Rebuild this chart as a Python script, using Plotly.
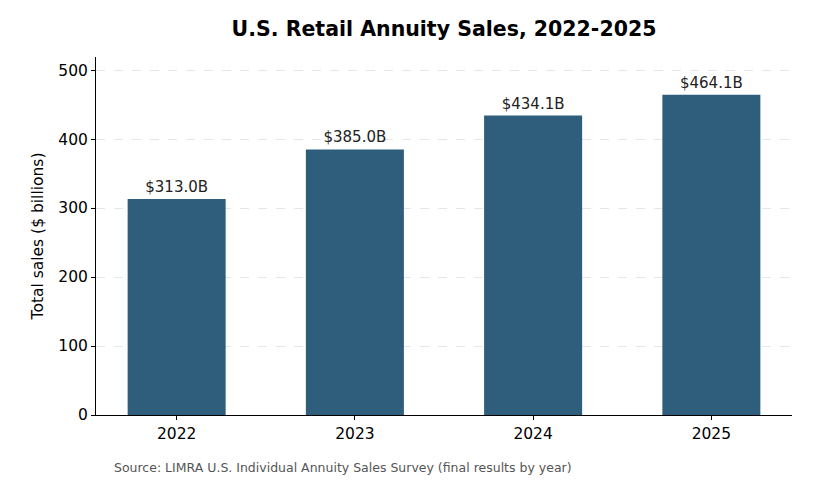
import plotly.graph_objects as go

# Data
years = ["2022", "2023", "2024", "2025"]
sales = [313.0, 385.0, 434.1, 464.1]  # $ billions
y_ticks = [0, 100, 200, 300, 400, 500]

BAR_COLOR = "#2f5e7d"
FONT = "DejaVu Sans"

fig = go.Figure()
fig.add_trace(go.Bar(
    x=list(range(len(years))),
    y=sales,
    width=0.55,
    marker=dict(color=BAR_COLOR, line=dict(width=0)),
    text=[f"${v:.1f}B" for v in sales],
    textposition="outside",
    textfont=dict(family=FONT, size=15, color="#222222"),
    cliponaxis=False,
    hoverinfo="skip",
))

# page body adds an 8px offset, so the figure is sized 8px smaller
fig.update_layout(
    width=817,
    height=483,
    paper_bgcolor="white",
    plot_bgcolor="white",
    showlegend=False,
    font=dict(family=FONT, size=15, color="black"),
    margin=dict(l=88, r=33, t=49, b=76),
    title=dict(
        text="<b>U.S. Retail Annuity Sales, 2022-2025</b>",
        x=(444 - 8) / 817, xanchor="center",
        y=1 - (29 - 8) / 483, yanchor="middle",
        font=dict(family=FONT, size=20.5, color="black"),
    ),
    annotations=[dict(
        text="Source: LIMRA U.S. Individual Annuity Sales Survey (final results by year)",
        xref="paper", yref="paper",
        x=0.023, y=-0.148,
        xanchor="left", yanchor="middle",
        showarrow=False,
        font=dict(family=FONT, size=12.5, color="#555555"),
    )],
)

fig.update_xaxes(
    range=[-0.4525, 3.4525],
    tickvals=list(range(len(years))),
    ticktext=years,
    showgrid=False,
    zeroline=False,
    showline=True, linecolor="black", linewidth=1,
    ticks="outside", ticklen=4, tickcolor="black",
    tickfont=dict(size=15.5),
)
fig.update_yaxes(
    range=[0, 519],
    tickvals=y_ticks,
    showgrid=True, gridcolor="#e6e6e6", griddash="dash", gridwidth=1,
    zeroline=False,
    showline=True, linecolor="black", linewidth=1,
    ticks="outside", ticklen=4, tickcolor="black",
    tickfont=dict(size=15.5),
    title=dict(text="Total sales ($ billions)", font=dict(size=15.5), standoff=10),
)

fig.write_html("out.html")
